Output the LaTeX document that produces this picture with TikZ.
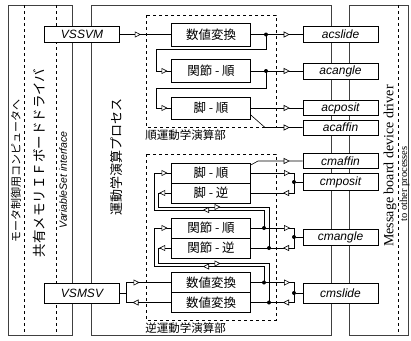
\documentclass[tikz,border=0pt]{standalone}
\usepackage{fontspec}
\setmainfont{Liberation Serif}
\setsansfont{Liberation Sans}
\newfontfamily\jpfont{Noto Sans CJK JP}
\usetikzlibrary{arrows.meta, decorations.markings, positioning}

\tikzset{
  opentri/.tip={Triangle[fill=white, length=6pt, width=6pt]},
  panel/.style={draw=black!75, line width=0.8pt},
  grp/.style={draw, dashed, line width=0.6pt},
  proc/.style={draw, fill=white, rectangle, minimum width=79pt, minimum height=20pt, inner sep=0pt, font=\jpfont\fontsize{12.5}{12.5}\selectfont},
  port/.style={draw, fill=white, rectangle, minimum width=75pt, minimum height=16pt, inner sep=0pt, font=\sffamily\itshape\fontsize{12}{12}\selectfont},
  dot/.style={circle, fill, inner sep=0pt, minimum size=4pt},
  tri at/.style={decoration={markings, mark=at position #1 with {\arrow{opentri}}}, postaction={decorate}},
  tri two/.style 2 args={decoration={markings, mark=at position #1 with {\arrow{opentri}}, mark=at position #2 with {\arrow{opentri}}}, postaction={decorate}},
}

\begin{document}
\begin{tikzpicture}[x=1pt, y=-1pt, line width=0.6pt]
\useasboundingbox (0,0) rectangle (411,340);

% panels
\draw[panel] (8,5) rectangle (72,335);
\draw[panel] (91,5) rectangle (331,335);
\draw[panel] (349,5) rectangle (408,335);
\draw[dashed] (24,5) -- (24,335);
\draw[dashed] (56,5) -- (56,335);
\draw[dashed] (398,5) -- (398,335);

\node[rotate=90, font=\jpfont\fontsize{11}{11}\selectfont] (motor) at (16,171) {モータ制御用コンピュータへ};
\node[rotate=90, font=\jpfont\fontsize{13.5}{13.5}\selectfont] (shmem) at (39,163) {共有メモリＩＦボードドライバ};
\node[rotate=90, font=\sffamily\itshape\fontsize{10.5}{10.5}\selectfont] (vsif) at (63,180) {VariableSet interface};
\node[rotate=90, font=\jpfont\fontsize{13}{13}\selectfont] (kinproc) at (117,157) {運動学演算プロセス};
\node[rotate=90, font=\fontsize{14}{14}\selectfont] (mbdrv) at (390,166) {Message board device driver};
\node[rotate=90, anchor=base, inner sep=0pt, font=\fontsize{10.5}{10.5}\selectfont] (others) at (407,184) {to other processes};

% groups
\draw[grp] (146,15) rectangle (276,127);
\node[anchor=north west, inner sep=0pt, font=\jpfont\fontsize{11.5}{11.5}\selectfont] (fwdlbl) at (145,129) {順運動学演算部};
\draw[grp] (146,154) rectangle (276,320);
\node[anchor=north west, inner sep=0pt, font=\jpfont\fontsize{11.5}{11.5}\selectfont] (invlbl) at (145,322) {逆運動学演算部};

% shared memory variables
\node[port] (vssvm) at (82,34.5) {VSSVM};
\node[port, minimum height=20pt] (vsmsv) at (82,293) {VSMSV};

% forward kinematics
\node[proc, minimum height=23pt] (fnum) at (211,34.5) {数値変換};
\node[proc, minimum height=23pt] (fjnt) at (211,71) {関節 - 順};
\node[proc, minimum height=22pt] (fleg) at (211,108) {脚 - 順};

% inverse kinematics
\node[proc] (ilegf) at (211,173) {脚 - 順};
\node[proc] (ilegi) at (211,193) {脚 - 逆};
\node[proc] (ijntf) at (211,228) {関節 - 順};
\node[proc] (ijnti) at (211,248) {関節 - 逆};
\node[proc] (inumf) at (211,282.5) {数値変換};
\node[proc] (inumi) at (211,302.5) {数値変換};

% message board
\node[port] (acslide) at (340.5,34.5) {acslide};
\node[port] (acangle) at (340.5,71) {acangle};
\node[port, minimum height=15pt] (acposit) at (340.5,108) {acposit};
\node[port, minimum height=15pt] (acaffin) at (340.5,127.5) {acaffin};
\node[port, minimum height=15pt] (cmaffin) at (340.5,161) {cmaffin};
\node[port, minimum height=17pt] (cmposit) at (340.5,182) {cmposit};
\node[port] (cmangle) at (340.5,237) {cmangle};
\node[port, minimum height=20pt] (cmslide) at (340.5,293) {cmslide};

% forward connections
\node[dot] (fd1) at (266,34.5) {};
\node[dot] (fd2) at (266,71) {};
\draw[tri at=21pt] (vssvm) -- (fnum);
\draw[tri at=-13pt] (fnum) -- (acslide);
\draw[tri at=-3.7pt] (fd1.center) |- (156,49.5) |- (fjnt.west);
\draw[tri at=-13pt] (fjnt) -- (acangle);
\draw[tri at=-3.7pt] (fd2.center) |- (156,88.5) |- (fleg.west);
\draw[tri at=-13pt] (fleg) -- (acposit);
\draw[tri at=-13pt] ([yshift=-7pt]fleg.east) -- (265,127.5) -- (acaffin.west);

% inverse connections
\coordinate (vj) at (126,293);
\node[dot] (pd) at (294,182) {};
\node[dot] (ad) at (294,237) {};
\node[dot] (sd) at (294,293) {};
\node[dot] (jf) at (264,228) {};
\node[dot] (ji) at (269,248) {};
\node[dot] (nf) at (264,282.5) {};
\node[dot] (ni) at (269,302.5) {};

\draw (vsmsv.east) -- (vj);
\draw[tri at=-31.7pt] (vj) |- (inumf.west);
\draw[tri at=38.7pt] (inumi.west) -| (vj);
\draw (sd) -- (cmslide);
\draw[tri at=39.3pt] (inumf.east) -| (sd.center);
\draw[tri at=20.5pt] (sd.center) |- (inumi.east);

\draw (ad) -- (cmangle);
\draw[tri at=39.3pt] (ijntf.east) -| (ad.center);
\draw[tri at=22pt] (ad.center) |- (ijnti.east);

\draw (pd) -- (cmposit);
\draw[tri at=39.3pt] (ilegf.east) -| (pd.center);
\draw[tri at=22pt] (pd.center) |- (ilegi.east);
\draw[tri at=-13pt] ([yshift=8pt]ilegf.east) -- (258,161) -- (cmaffin.west);

% buses between stages
\draw[tri two={79pt}{-3.7pt}] (jf.center) |- (154,210) |- (ilegf.west);
\draw[tri two={12pt}{89.7pt}] (ilegi.west) -| (158,207) -| (ji.center);
\draw[tri two={77pt}{-3.7pt}] (nf.center) |- (154,266.5) |- (ijntf.west);
\draw[tri two={12pt}{91.2pt}] (ijnti.west) -| (158,263.5) -| (ni.center);
\end{tikzpicture}
\end{document}
